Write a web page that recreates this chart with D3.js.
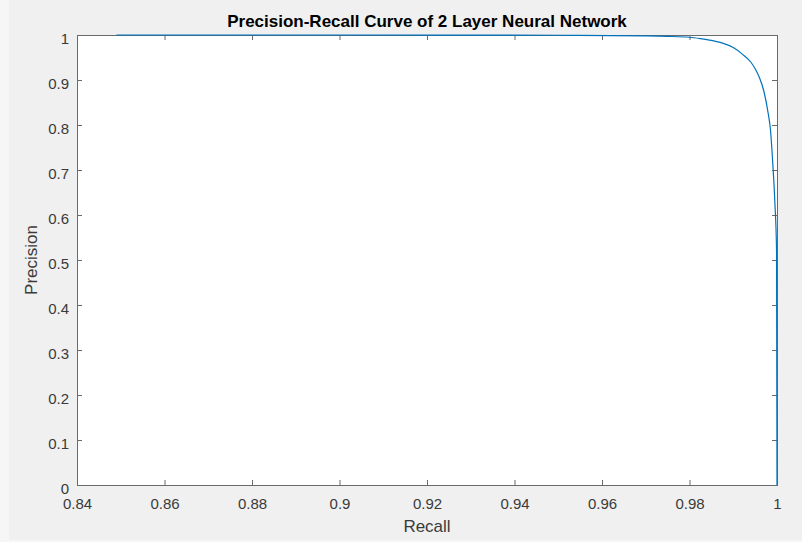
<!DOCTYPE html>
<html>
<head>
<meta charset="utf-8">
<script src="https://cdn.jsdelivr.net/npm/d3@7"></script>
<style>
html,body{margin:0;padding:0;background:#f0f0f0;}
svg{display:block;}
text{font-family:"Liberation Sans",Arial,Helvetica,sans-serif;}
</style>
</head>
<body>
<script>
// Data
const recall    = [0.849, 0.90, 0.95, 0.97, 0.975, 0.98, 0.9825, 0.985, 0.9875, 0.99, 0.992, 0.994, 0.995, 0.996, 0.997, 0.998, 0.9985, 0.999, 0.9995, 0.9999, 1.0];
const precision = [1.0,   1.0,  0.9995, 0.998, 0.997, 0.995, 0.992, 0.988, 0.982, 0.972, 0.958, 0.940, 0.925, 0.905, 0.875, 0.825, 0.79, 0.72, 0.63, 0.52, 0.0];
const xTicks = [0.84, 0.86, 0.88, 0.90, 0.92, 0.94, 0.96, 0.98, 1.0];
const xTickLabels = ["0.84","0.86","0.88","0.9","0.92","0.94","0.96","0.98","1"];
const yTicks = [0,0.1,0.2,0.3,0.4,0.5,0.6,0.7,0.8,0.9,1];
const yTickLabels = ["0","0.1","0.2","0.3","0.4","0.5","0.6","0.7","0.8","0.9","1"];
const titleText = "Precision-Recall Curve of 2 Layer Neural Network";
const xLabelText = "Recall";
const yLabelText = "Precision";

const W = 802, H = 542;
const L = 77, R = 777, T = 35, B = 485;

const svg = d3.select("body").append("svg").attr("width", W).attr("height", H);
svg.append("rect").attr("width", W).attr("height", H).attr("fill", "#f0f0f0");
svg.append("rect").attr("x",0).attr("y",0).attr("width",9).attr("height",H).attr("fill","#f6f6f6");
svg.append("rect").attr("x",0).attr("y",540).attr("width",W).attr("height",2).attr("fill","#f6f6f6");

const x = d3.scaleLinear().domain([0.84, 1]).range([L, R]);
const y = d3.scaleLinear().domain([0, 1]).range([B, T]);

svg.append("rect").attr("x", L).attr("y", T).attr("width", R - L).attr("height", B - T).attr("fill", "#fff");

const axisColor = "#6a6a6a";
const textColor = "#3a3a3a";
const tl = 5;
const tickFont = 15;

function styleAxis(g) {
  g.select(".domain").remove();
  g.selectAll(".tick line").attr("stroke", axisColor);
  g.selectAll(".tick text").attr("fill", textColor).attr("font-size", tickFont);
}

// bottom
const gx = svg.append("g").attr("transform", `translate(0,${B})`)
  .call(d3.axisBottom(x).tickValues(xTicks).tickFormat((d,i)=>xTickLabels[i]).tickSizeInner(-tl).tickSizeOuter(0).tickPadding(13));
styleAxis(gx);
// top
const gxt = svg.append("g").attr("transform", `translate(0,${T})`)
  .call(d3.axisTop(x).tickValues(xTicks).tickFormat("").tickSizeInner(-tl).tickSizeOuter(0));
styleAxis(gxt);
// left
const gy = svg.append("g").attr("transform", `translate(${L},0)`)
  .call(d3.axisLeft(y).tickValues(yTicks).tickFormat((d,i)=>yTickLabels[i]).tickSizeInner(-tl).tickSizeOuter(0).tickPadding(8));
styleAxis(gy);
gy.selectAll(".tick text").attr("dy", "0.55em");
// right
const gyr = svg.append("g").attr("transform", `translate(${R},0)`)
  .call(d3.axisRight(y).tickValues(yTicks).tickFormat("").tickSizeInner(-tl).tickSizeOuter(0));
styleAxis(gyr);

// box
svg.append("rect").attr("x", L + 0.5).attr("y", T + 0.5).attr("width", R - L).attr("height", B - T)
  .attr("fill", "none").attr("stroke", axisColor).attr("stroke-width", 1);

// curve
const line = d3.line().x((d,i)=>x(recall[i])).y((d,i)=>y(precision[i])).curve(d3.curveMonotoneX);
svg.append("path").datum(recall).attr("d", line).attr("fill","none").attr("stroke","#0072BD").attr("stroke-width",1.2);

// title and labels
svg.append("text").attr("x", (L+R)/2).attr("y", 27).attr("text-anchor","middle")
  .attr("font-size", 17).attr("font-weight","bold").attr("fill","#000").text(titleText);
svg.append("text").attr("x", (L+R)/2).attr("y", 532).attr("text-anchor","middle")
  .attr("font-size", 17).attr("fill", textColor).text(xLabelText);
svg.append("text").attr("transform", `translate(37,${(T+B)/2}) rotate(-90)`).attr("text-anchor","middle")
  .attr("font-size", 17).attr("fill", textColor).text(yLabelText);
</script>
</body>
</html>
